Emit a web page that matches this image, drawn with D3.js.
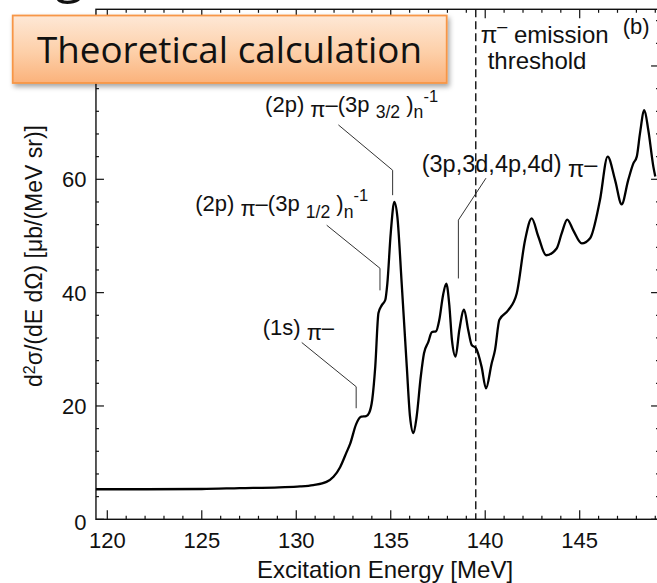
<!DOCTYPE html>
<html><head><meta charset="utf-8">
<script src="https://cdn.jsdelivr.net/npm/d3@7"></script>
<style>body{margin:0;background:#fff;} svg{display:block;}</style>
</head><body>
<svg id="chart" width="657" height="583"></svg>
<script>
// ---- data ----
const energy = [119.4, 122, 125, 127, 129.1, 130.2, 130.9, 131.6, 131.97, 132.32, 132.67, 132.85, 133.17, 133.44, 133.7, 133.86, 134.02, 134.18, 134.35, 134.53, 134.71, 134.82, 135.0, 135.19, 135.35, 135.58, 135.85, 136.02, 136.2, 136.37, 136.59, 136.76, 136.99, 137.17, 137.4, 137.57, 137.77, 137.94, 138.1, 138.24, 138.43, 138.63, 138.88, 139.1, 139.28, 139.51, 139.81, 140.04, 140.34, 140.52, 140.75, 141.22, 141.67, 142.11, 142.46, 142.81, 143.22, 143.78, 144.05, 144.34, 144.66, 145.11, 145.55, 146.07, 146.48, 146.87, 147.22, 147.57, 147.84, 148.02, 148.19, 148.42, 148.63, 148.9, 149.0];
const sigma = [5.3, 5.3, 5.35, 5.5, 5.65, 5.8, 6.05, 6.6, 7.5, 9.2, 11.9, 13.3, 16.8, 18.1, 18.2, 18.8, 21.1, 26.9, 36.4, 37.8, 38.7, 41.6, 50.5, 56.0, 53.4, 41.6, 26.9, 18.1, 15.2, 18.1, 25.2, 29.3, 31.3, 33.0, 33.2, 35.2, 39.6, 41.6, 37.8, 31.6, 28.7, 33.4, 37.0, 33.4, 30.8, 30.2, 26.9, 23.1, 27.5, 29.9, 35.2, 36.9, 39.9, 49.3, 53.1, 49.9, 46.6, 47.8, 50.5, 52.9, 51.0, 48.7, 49.6, 56.3, 64.0, 59.9, 55.6, 59.9, 62.8, 64.0, 68.1, 72.2, 68.7, 62.2, 60.5];
const xMajorTicks = [120, 125, 130, 135, 140, 145];
const xTickLabels = ["120", "125", "130", "135", "140", "145"];
const yMajorTicks = [0, 20, 40, 60, 80];
const yTickLabels = ["0", "20", "40", "60", "80"];
const thresholdEnergy = 139.5;
const xDomain = [119.4, 149.2];
const yDomain = [0, 90];

// leader lines, in data units [energy, value]
const leader32 = [[132.23, 69.6], [135.10, 61.6], [135.10, 57.2]];
const leader12 = [[131.61, 51.9], [134.43, 44.3], [134.43, 40.4]];
const leader1s = [[130.29, 31.2], [133.17, 23.4], [133.17, 19.6]];
const leader3p = [[140.04, 60.2], [138.58, 52.8], [138.58, 42.5]];

// label anchors [energy, value]
const labelPos32 = [128.35, 71.9];
const labelPos12 = [124.65, 54.4];
const labelPos1s = [128.22, 32.5];
const labelPos3p = [136.64, 61.3];
const labelPosEmission = [139.76, 84.1];
const labelPosThreshold = [140.13, 79.4];
const labelPosB = [147.28, 85.6];

const svg = d3.select("#chart");
const x = d3.scaleLinear().domain([120, 145]).range([107.3, 579.7]);
const y = d3.scaleLinear().domain([0, 60]).range([519.3, 179.3]);

const FONT = "'Liberation Sans', Arial, Helvetica, sans-serif";

// frame
const x0 = x(xDomain[0]), x1 = x(xDomain[1]), y0 = y(yDomain[0]), y1 = y(yDomain[1]);
svg.append("rect").attr("x", x0).attr("y", y1).attr("width", x1 - x0).attr("height", y0 - y1)
  .attr("fill", "none").attr("stroke", "#111").attr("stroke-width", 1.4);

// ticks
const xMinor = d3.range(120, 150, 1).filter(v => v % 5 !== 0);
const yMinor = d3.range(4, 90, 4).filter(v => v % 20 !== 0);
const tickG = svg.append("g").attr("stroke", "#111").attr("stroke-width", 1.2);
function xt(vals, len) {
  vals.forEach(v => {
    tickG.append("line").attr("x1", x(v)).attr("x2", x(v)).attr("y1", y0).attr("y2", y0 - len);
    tickG.append("line").attr("x1", x(v)).attr("x2", x(v)).attr("y1", y1).attr("y2", y1 + len);
  });
}
function yt(vals, len) {
  vals.forEach(v => {
    tickG.append("line").attr("y1", y(v)).attr("y2", y(v)).attr("x1", x0).attr("x2", x0 + len);
    tickG.append("line").attr("y1", y(v)).attr("y2", y(v)).attr("x1", x1).attr("x2", x1 - len);
  });
}
xt(xMajorTicks, 9); xt(xMinor, 3.5);
yt(yMajorTicks, 8); yt(yMinor, 3);

// tick labels
svg.append("g").selectAll("text").data(xMajorTicks).join("text")
  .attr("x", d => x(d)).attr("y", 548)
  .attr("text-anchor", "middle").attr("font-family", FONT).attr("font-size", 22).attr("fill", "#111")
  .text((d, i) => xTickLabels[i]);
svg.append("g").selectAll("text").data(yMajorTicks).join("text")
  .attr("x", x0 - 9.5).attr("y", d => y(d) + (d === 0 ? 2.5 : 0)).attr("dy", "0.36em")
  .attr("text-anchor", "end").attr("font-family", FONT).attr("font-size", 22).attr("fill", "#111")
  .text((d, i) => yTickLabels[i]);

// axis titles
svg.append("text").attr("x", 385).attr("y", 578).attr("text-anchor", "middle")
  .attr("font-family", FONT).attr("font-size", 24).attr("fill", "#111").text("Excitation Energy [MeV]");
const yt_ = svg.append("text").attr("transform", "translate(42,256) rotate(-90)").attr("text-anchor", "middle")
  .attr("font-family", FONT).attr("font-size", 23).attr("fill", "#111");
yt_.append("tspan").text("d");
yt_.append("tspan").attr("font-size", 16).attr("dy", -7).text("2");
yt_.append("tspan").attr("dy", 7).text("σ/(dE dΩ) [μb/(MeV sr)]");

// threshold dashed line
svg.append("line").attr("x1", x(thresholdEnergy)).attr("x2", x(thresholdEnergy))
  .attr("y1", y1).attr("y2", y0).attr("stroke", "#111").attr("stroke-width", 1.4)
  .attr("stroke-dasharray", "8,4");

// curve
const pts = energy.map((e, i) => [e, sigma[i]]);
const line = d3.line().x(d => x(d[0])).y(d => y(d[1])).curve(d3.curveMonotoneX);
svg.append("path").attr("d", line(pts)).attr("fill", "none").attr("stroke", "#000")
  .attr("stroke-width", 2.3).attr("stroke-linejoin", "round");

// leader lines
const lline = d3.line().x(d => x(d[0])).y(d => y(d[1]));
[leader32, leader12, leader1s, leader3p].forEach(l => {
  svg.append("path").attr("d", lline(l)).attr("fill", "none").attr("stroke", "#333").attr("stroke-width", 1);
});

// rich label helper
function rich(pos, segs, size) {
  const t = svg.append("text").attr("x", x(pos[0])).attr("y", y(pos[1]))
    .attr("font-family", FONT).attr("font-size", size).attr("fill", "#111");
  const base = y(pos[1]);
  segs.forEach(s => {
    const sp = t.append("tspan").text(s.t);
    let off = 0, fs = size;
    if (s.sub) { off = size * 0.3; fs = size * 0.8; }
    if (s.sup) { off = -size * 0.45; fs = size * 0.75; }
    if (s.lo) { off = size * 0.22; fs = size; }
    sp.attr("y", base + off).attr("font-size", fs);
  });
  return t;
}
rich(labelPos32, [{t: "(2p) "}, {t: "π", lo: true}, {t: "–(3p "}, {t: "3/2", sub: true}, {t: " )"}, {t: "n", sub: true}, {t: "-1", sup: true}], 22);
rich(labelPos12, [{t: "(2p) "}, {t: "π", lo: true}, {t: "–(3p "}, {t: "1/2", sub: true}, {t: " )"}, {t: "n", sub: true}, {t: "-1", sup: true}], 22);
rich(labelPos1s, [{t: "(1s) "}, {t: "π", lo: true}, {t: "–"}], 22);
rich(labelPos3p, [{t: "(3p,3d,4p,4d) "}, {t: "π", lo: true}, {t: "–"}], 23.5);
rich(labelPosEmission, [{t: "π"}, {t: "–", sup: true}, {t: " emission"}], 24);
rich(labelPosThreshold, [{t: "threshold"}], 24);
rich(labelPosB, [{t: "(b)"}], 22);

// slide title fragment above (only its lower tip shows)
svg.append("text").attr("x", 55).attr("y", -8).attr("font-family", "'Open Sans', sans-serif")
  .attr("font-size", 52).attr("fill", "#111").text("g");

// orange title box
const defs = svg.append("defs");
const grad = defs.append("linearGradient").attr("id", "boxGrad").attr("x1", 0).attr("y1", 0).attr("x2", 0).attr("y2", 1);
grad.append("stop").attr("offset", "0%").attr("stop-color", "#fee8d6");
grad.append("stop").attr("offset", "55%").attr("stop-color", "#fdcfa8");
grad.append("stop").attr("offset", "100%").attr("stop-color", "#fbb27b");
const filt = defs.append("filter").attr("id", "shadow").attr("x", "-10%").attr("y", "-20%").attr("width", "130%").attr("height", "160%");
filt.append("feDropShadow").attr("dx", 2).attr("dy", 3).attr("stdDeviation", 2.5).attr("flood-color", "#000").attr("flood-opacity", 0.35);
svg.append("rect").attr("x", 12.7).attr("y", 15.5).attr("width", 434).attr("height", 67.5)
  .attr("fill", "url(#boxGrad)").attr("stroke", "#f79646").attr("stroke-width", 1.8).attr("filter", "url(#shadow)");
svg.append("text").attr("x", 37).attr("y", 63).attr("font-family", "'Open Sans', sans-serif")
  .attr("font-size", 37).attr("fill", "#111").attr("textLength", 385).attr("lengthAdjust", "spacingAndGlyphs")
  .text("Theoretical calculation");
</script>
</body></html>
